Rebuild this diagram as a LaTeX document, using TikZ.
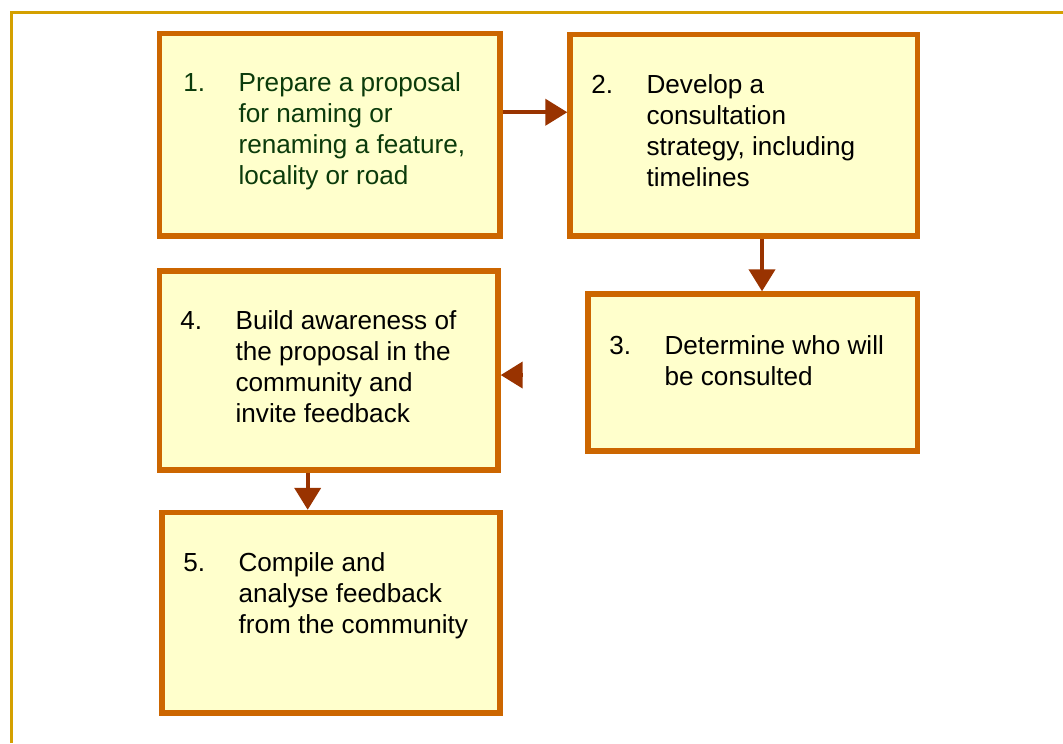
\documentclass[tikz,border=0pt]{standalone}
\usepackage{fontspec}
\setmainfont{Liberation Sans}
\usetikzlibrary{arrows.meta,positioning}

\definecolor{framegold}{HTML}{D4A000}
\definecolor{boxedge}{HTML}{CC6600}
\definecolor{boxfill}{HTML}{FFFFCC}
\definecolor{arrowbrown}{HTML}{993300}
\definecolor{textgreen}{HTML}{0B3B0B}

% number, then the step text hanging beside it
\newcommand{\stepitem}[2]{\makebox[41.5pt][l]{#1}\begin{tabular}[t]{@{}l@{}}#2\end{tabular}}

\begin{document}
\begin{tikzpicture}[
    x=0.75pt, y=-0.75pt,
    stepbox/.style={draw=boxedge, fill=boxfill, line width=4pt, inner sep=0pt},
    steptext/.style={anchor=base west, inner sep=0pt, font=\fontsize{19.6}{23.25}\selectfont},
    arr/.style={-{Triangle[length=16.5pt, width=19.5pt]}, line width=3pt, draw=arrowbrown, fill=arrowbrown},
    frame/.style={draw=framegold, line width=2.25pt},
]
\useasboundingbox (0,0) rectangle (1063,743);

% Outer frame
\draw[frame] (11.3,743) |- (1063,12.5);

% Step boxes
\node[stepbox, minimum width=255.4pt, minimum height=152pt] (b1) at (329.75,134.65) {};
\node[stepbox, minimum width=260.6pt, minimum height=151pt] (b2) at (743.75,135.35) {};
\node[stepbox, minimum width=247.1pt, minimum height=117.75pt] (b3) at (752.75,372.5) {};
\node[stepbox, minimum width=253.9pt, minimum height=149.25pt] (b4) at (328.75,370.5) {};
\node[stepbox, minimum width=253.5pt, minimum height=150.4pt] (b5) at (331,612.75) {};

% Step texts
\node[steptext, text=textgreen] (t1) at (183,91) {\stepitem{1.}{Prepare a proposal\\for naming or\\renaming a feature,\\locality or road}};
\node[steptext] (t2) at (591,93) {\stepitem{2.}{Develop a\\consultation\\strategy, including\\timelines}};
\node[steptext] (t3) at (609,354) {\stepitem{3.}{Determine who will\\be consulted}};
\node[steptext] (t4) at (180,329) {\stepitem{4.}{Build awareness of\\the proposal in the\\community and\\invite feedback}};
\node[steptext] (t5) at (183,571) {\stepitem{5.}{Compile and\\analyse feedback\\from the community}};

% Arrows
\draw[arr] ([yshift=16.8pt]b1.east) -- ([yshift=16.8pt]b1.east -| b2.west);
\draw[arr] ([xshift=13.7pt]b2.south) -- ([xshift=13.7pt]b2.south |- b3.north);
\draw[arr] ([xshift=-15.8pt]b4.south) -- ([xshift=-15.8pt]b4.south |- b5.north);
\coordinate (h4) at ([xshift=16.5pt, yshift=-3.4pt]b4.east);
\draw[arr] (h4) -- (h4 -| b4.east);

\end{tikzpicture}
\end{document}
